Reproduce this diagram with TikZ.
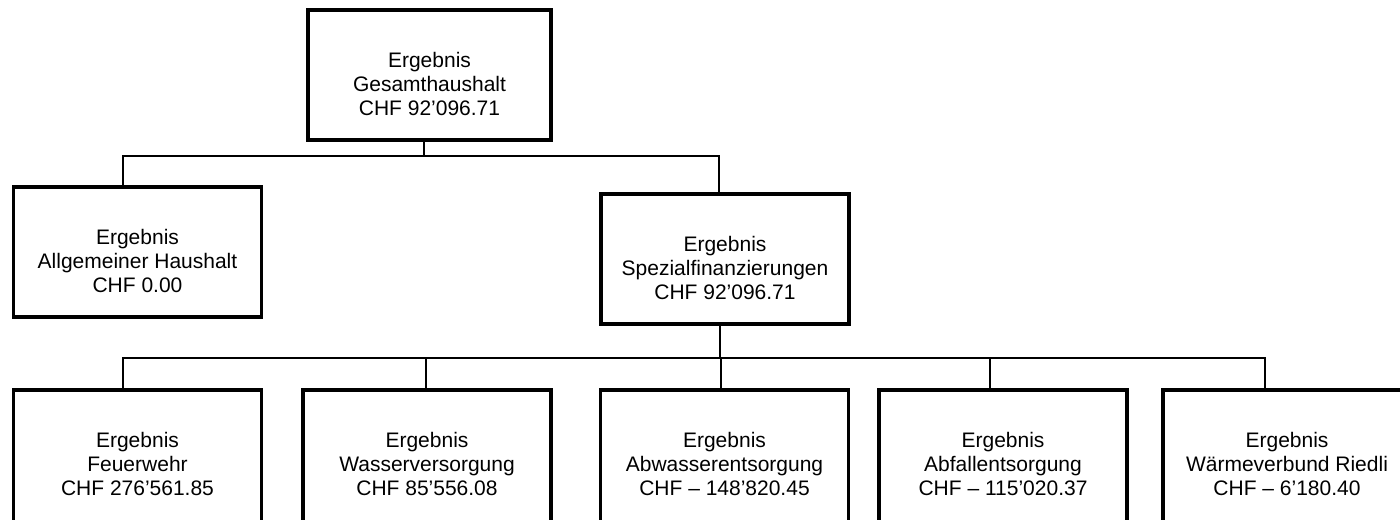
\documentclass[tikz,border=0pt]{standalone}
\usepackage{fontspec}
\setmainfont{Liberation Sans}
\tikzset{
  box/.style={draw, line width=1.8pt, minimum width=124pt, minimum height=65pt},
  lowbox/.style={box, minimum height=68pt},
  boxtext/.style={align=center, yshift=-4.5pt, font=\fontsize{10.5}{12}\selectfont},
  lowtext/.style={boxtext, yshift=1.5pt},
  wire/.style={line width=0.6pt}
}
\begin{document}
\begin{tikzpicture}[x=0.5pt, y=-0.5pt]
  \useasboundingbox (0,0) rectangle (1400,519);
  \clip (0,0) rectangle (1400,519);
  % boxes
  \node[box, minimum width=121.5pt, label={[boxtext]center:Ergebnis\\Gesamthaushalt\\CHF 92’096.71}] (gesamt) at (429.5,75) {};
  \node[box, label={[boxtext]center:Ergebnis\\Allgemeiner Haushalt\\CHF 0.00}] (allg) at (137.5,252) {};
  \node[box, label={[boxtext]center:Ergebnis\\Spezialfinanzierungen\\CHF 92’096.71}] (spez) at (725,259) {};
  \node[lowbox, label={[lowtext]center:Ergebnis\\Feuerwehr\\CHF 276’561.85}] (feuer) at (137.5,458) {};
  \node[lowbox, label={[lowtext]center:Ergebnis\\Wasserversorgung\\CHF 85’556.08}] (wasser) at (427,458) {};
  \node[lowbox, label={[lowtext]center:Ergebnis\\Abwasserentsorgung\\CHF – 148’820.45}] (abwasser) at (724.5,458) {};
  \node[lowbox, label={[lowtext]center:Ergebnis\\Abfallentsorgung\\CHF – 115’020.37}] (abfall) at (1003,458) {};
  \node[lowbox, label={[lowtext]center:Ergebnis\\Wärmeverbund Riedli\\CHF – 6’180.40}] (waerme) at (1287,458) {};
  % junctions
  \coordinate (j0) at (424,156);
  \coordinate (j1) at (123,156);
  \coordinate (j2) at (719,156);
  \coordinate (k0) at (720,358);
  \coordinate (k1) at (123,358);
  \coordinate (k2) at (426,358);
  \coordinate (k3) at (721,358);
  \coordinate (k4) at (990,358);
  \coordinate (k5) at (1265,358);
  % connectors
  \draw[wire] (gesamt.south -| j0) -- (j0);
  \draw[wire] (allg.north -| j1) |- (j2) -- (spez.north -| j2);
  \draw[wire] (spez.south -| k0) -- (k0);
  \draw[wire] (feuer.north -| k1) |- (k5) -- (waerme.north -| k5);
  \foreach \j/\b in {k2/wasser, k3/abwasser, k4/abfall}
    \draw[wire] (\j) -- (\b.north -| \j);
\end{tikzpicture}
\end{document}
